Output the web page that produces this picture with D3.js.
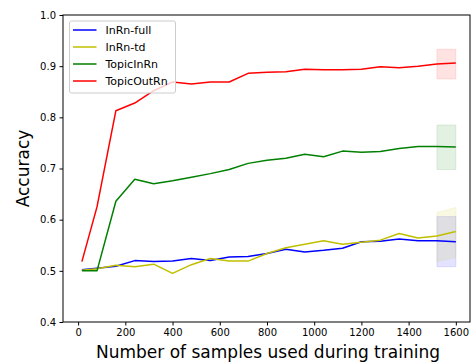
<!DOCTYPE html>
<html>
<head>
<meta charset="utf-8">
<script src="https://cdn.jsdelivr.net/npm/d3@7"></script>
<style>
  body { margin: 0; background: #fff; }
  svg { font-family: "DejaVu Sans", sans-serif; }
</style>
</head>
<body>
<div id="chart"></div>
<script>
const WIDTH = 471;
const HEIGHT = 362;

// training set sizes
const samples = [16, 80, 160, 240, 320, 400, 480, 560, 640, 720, 800, 880, 960,
                 1040, 1120, 1200, 1280, 1360, 1440, 1520, 1600];

const inrnFull = [0.502, 0.505, 0.509, 0.520, 0.518, 0.519, 0.524, 0.520, 0.527, 0.528,
                  0.534, 0.542, 0.537, 0.540, 0.544, 0.557, 0.558, 0.562, 0.559, 0.559, 0.557];
const inrnTd = [0.501, 0.504, 0.511, 0.508, 0.513, 0.495, 0.512, 0.524, 0.519, 0.519,
                0.534, 0.545, 0.552, 0.559, 0.552, 0.556, 0.560, 0.573, 0.564, 0.568, 0.577];
const topicInRn = [0.500, 0.500, 0.636, 0.679, 0.670, 0.676, 0.683, 0.690, 0.698, 0.710,
                   0.716, 0.720, 0.728, 0.723, 0.734, 0.732, 0.733, 0.739, 0.743, 0.743, 0.742];
const topicOutRn = [0.518, 0.625, 0.813, 0.828, 0.852, 0.869, 0.865, 0.869, 0.869, 0.886,
                    0.888, 0.889, 0.894, 0.893, 0.893, 0.894, 0.899, 0.897, 0.900, 0.904, 0.906];

// spread shown over the last step
const bandX = [1520, 1600];
const inrnFullLow = [0.508, 0.508], inrnFullHigh = [0.606, 0.606];
const inrnTdLow = [0.518, 0.526], inrnTdHigh = [0.614, 0.624];
const topicInLow = [0.698, 0.698], topicInHigh = [0.785, 0.785];
const topicOutLow = [0.875, 0.875], topicOutHigh = [0.933, 0.933];

const xTicks = [0, 200, 400, 600, 800, 1000, 1200, 1400, 1600];
const yTicks = [0.4, 0.5, 0.6, 0.7, 0.8, 0.9, 1.0];

const series = [
  {name: 'InRn-full', values: inrnFull, low: inrnFullLow, high: inrnFullHigh, color: '#0000ff'},
  {name: 'InRn-td', values: inrnTd, low: inrnTdLow, high: inrnTdHigh, color: '#bfbf00'},
  {name: 'TopicInRn', values: topicInRn, low: topicInLow, high: topicInHigh, color: '#008000'},
  {name: 'TopicOutRn', values: topicOutRn, low: topicOutLow, high: topicOutHigh, color: '#ff0000'}
];

const LEFT = 63, RIGHT = 470, TOP = 15, BOTTOM = 322;

const xScale = d3.scaleLinear().domain([-64, 1660]).range([LEFT, RIGHT]);
const yScale = d3.scaleLinear().domain([0.4, 1.0]).range([BOTTOM, TOP]);

const svg = d3.select('#chart').append('svg')
  .attr('width', WIDTH)
  .attr('height', HEIGHT);

// shaded spreads first so lines sit on top
const area = d3.area()
  .x((d, i) => xScale(bandX[i]))
  .y0(d => yScale(d[0]))
  .y1(d => yScale(d[1]));

series.forEach(s => {
  svg.append('path')
    .datum(s.low.map((l, i) => [l, s.high[i]]))
    .attr('d', area)
    .attr('fill', s.color)
    .attr('fill-opacity', 0.11)
    .attr('stroke', s.color)
    .attr('stroke-opacity', 0.11);
});

const line = d3.line()
  .x((d, i) => xScale(samples[i]))
  .y(d => yScale(d));

series.forEach(s => {
  svg.append('path')
    .datum(s.values)
    .attr('d', line)
    .attr('fill', 'none')
    .attr('stroke', s.color)
    .attr('stroke-width', 1.5)
    .attr('stroke-linejoin', 'round');
});

// frame
svg.append('rect')
  .attr('x', LEFT).attr('y', TOP)
  .attr('width', RIGHT - LEFT).attr('height', BOTTOM - TOP)
  .attr('fill', 'none').attr('stroke', '#000').attr('stroke-width', 1);

// axes
const xAxis = svg.append('g')
  .attr('transform', 'translate(0,' + BOTTOM + ')')
  .call(d3.axisBottom(xScale).tickValues(xTicks).tickSize(3.5).tickPadding(3.5).tickFormat(d3.format('d')));
const yAxis = svg.append('g')
  .attr('transform', 'translate(' + LEFT + ',0)')
  .call(d3.axisLeft(yScale).tickValues(yTicks).tickSize(3.5).tickPadding(3.5).tickFormat(d3.format('.1f')));

[xAxis, yAxis].forEach(a => {
  a.select('.domain').remove();
  a.selectAll('text').attr('font-family', '"DejaVu Sans", sans-serif').attr('font-size', 10).attr('fill', '#000');
  a.selectAll('line').attr('stroke', '#000');
});

svg.append('text')
  .attr('x', 268)
  .attr('y', 358)
  .attr('text-anchor', 'middle')
  .attr('font-size', 17)
  .text('Number of samples used during training');

svg.append('text')
  .attr('transform', 'translate(29,' + ((TOP + BOTTOM) / 2) + ') rotate(-90)')
  .attr('text-anchor', 'middle')
  .attr('font-size', 17)
  .text('Accuracy');

// legend
const legend = svg.append('g').attr('transform', 'translate(69.5,21)');
legend.append('rect')
  .attr('width', 106).attr('height', 72)
  .attr('rx', 2)
  .attr('fill', '#fff').attr('fill-opacity', 0.8)
  .attr('stroke', '#ccc');

series.forEach((s, i) => {
  const y = 9 + i * 17;
  legend.append('line')
    .attr('x1', 3.5).attr('x2', 27)
    .attr('y1', y).attr('y2', y)
    .attr('stroke', s.color).attr('stroke-width', 1.5);
  legend.append('text')
    .attr('x', 36).attr('y', y + 4)
    .attr('font-size', 11)
    .text(s.name);
});
</script>
</body>
</html>
